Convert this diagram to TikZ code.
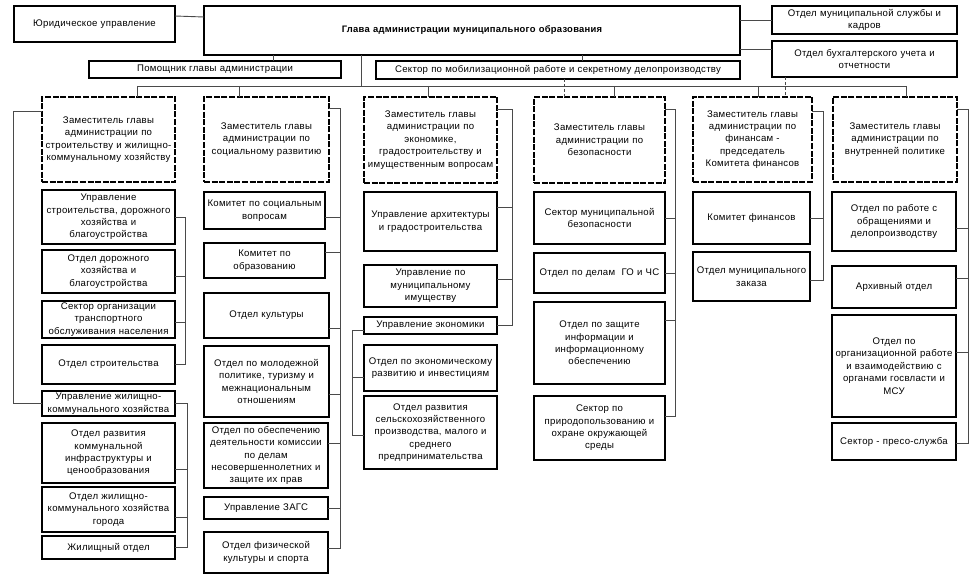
\documentclass[tikz,border=0pt]{standalone}
\usepackage{fontspec}
\setmainfont[LetterSpace=3]{Liberation Sans}
\definecolor{lnc}{HTML}{4A4A4A}
\tikzset{
  x=1pt,y=-1pt,
  box/.style={draw=black, line width=1.5pt, fill=white, align=center, inner xsep=2pt, inner ysep=1pt, outer sep=0pt,
    font=\fontsize{9.6}{12.4}\selectfont},
  topbox/.style={box, line width=1.3pt},
  depbox/.style={box, line width=2pt, dash pattern=on 6pt off 1.6pt},
  conn/.style={draw=lnc, line width=0.9pt},
  dconn/.style={draw=lnc, line width=0.9pt, dash pattern=on 3pt off 2pt},
}
\newcommand\obox[7]{%
  \pgfmathsetmacro\bxw{#5-#3}\pgfmathsetmacro\bxh{#6-#4}\pgfmathsetmacro\bxt{#5-#3-4}%
  \node[#2, anchor=north west, minimum width=\bxw pt, minimum height=\bxh pt, text width=\bxt pt] (#1) at (#3,#4) {#7};}
\begin{document}
\begin{tikzpicture}
\useasboundingbox[fill=white] (0,0) rectangle (972,575);
% top row
\obox{yur}{topbox}{14}{6}{175}{42}{Юридическое управление}
\obox{glava}{topbox}{204}{6}{740}{55}{\fontsize{9.4}{12}\selectfont\bfseries Глава администрации муниципального образования}
\obox{kadry}{topbox}{772}{6}{957}{34}{Отдел муниципальной службы и\\кадров}
\obox{buh}{topbox}{772}{41}{957}{77}{Отдел бухгалтерского учета и\\отчетности}
\obox{pom}{topbox}{89}{61}{341}{78}{Помощник главы администрации}
\obox{mob}{topbox}{376}{61}{740}{79}{Сектор по мобилизационной работе и секретному делопроизводству}
% deputies
\obox{d1}{depbox}{42}{97}{175}{182}{Заместитель главы\\администрации по\\строительству и жилищно-\\коммунальному хозяйству}
\obox{d2}{depbox}{204}{97}{329}{182}{Заместитель главы\\администрации по\\социальному развитию}
\obox{d3}{depbox}{364}{97}{497}{183}{Заместитель главы\\администрации по\\экономике,\\градостроительству и\\имущественным вопросам}
\obox{d4}{depbox}{534}{97}{665}{183}{Заместитель главы\\администрации по\\безопасности}
\obox{d5}{depbox}{693}{97}{812}{182}{Заместитель главы\\администрации по\\финансам -\\председатель\\Комитета финансов}
\obox{d6}{depbox}{833}{97}{957}{182}{Заместитель главы\\администрации по\\внутренней политике}
% column 1
\obox{a1}{box}{42}{190}{175}{244}{Управление\\строительства, дорожного\\хозяйства и\\благоустройства}
\obox{a2}{box}{42}{250}{175}{293}{Отдел дорожного\\хозяйства и\\благоустройства}
\obox{a3}{box}{42}{301}{175}{338}{Сектор организации\\транспортного\\обслуживания населения}
\obox{a4}{box}{42}{345}{175}{384}{Отдел строительства}
\obox{a5}{box}{42}{391}{175}{416}{Управление жилищно-\\коммунального хозяйства}
\obox{a6}{box}{42}{423}{175}{483}{Отдел развития\\коммунальной\\инфраструктуры и\\ценообразования}
\obox{a7}{box}{42}{487}{175}{532}{Отдел жилищно-\\коммунального хозяйства\\города}
\obox{a8}{box}{42}{536}{175}{559}{Жилищный отдел}
% column 2
\obox{b1}{box}{204}{192}{325}{229}{Комитет по социальным\\вопросам}
\obox{b2}{box}{204}{243}{325}{278}{Комитет по\\образованию}
\obox{b3}{box}{204}{293}{329}{338}{Отдел культуры}
\obox{b4}{box}{204}{346}{329}{417}{Отдел по молодежной\\политике, туризму и\\межнациональным\\отношениям}
\obox{b5}{box}{204}{423}{328}{488}{Отдел по обеспечению\\деятельности комиссии\\по делам\\несовершеннолетних и\\защите их прав}
\obox{b6}{box}{204}{497}{328}{519}{Управление ЗАГС}
\obox{b7}{box}{204}{532}{328}{573}{Отдел физической\\культуры и спорта}
% column 3
\obox{c1}{box}{364}{192}{497}{251}{Управление архитектуры\\и градостроительства}
\obox{c2}{box}{364}{265}{497}{307}{Управление по\\муниципальному\\имуществу}
\obox{c3}{box}{364}{317}{497}{334}{Управление экономики}
\obox{c4}{box}{364}{345}{497}{391}{Отдел по экономическому\\развитию и инвестициям}
\obox{c5}{box}{364}{396}{497}{469}{Отдел развития\\сельскохозяйственного\\производства, малого и\\среднего\\предпринимательства}
% column 4
\obox{e1}{box}{534}{192}{665}{244}{Сектор муниципальной\\безопасности}
\obox{e2}{box}{534}{253}{665}{293}{Отдел по делам~~ГО и ЧС}
\obox{e3}{box}{534}{302}{665}{384}{Отдел по защите\\информации и\\информационному\\обеспечению}
\obox{e4}{box}{534}{396}{665}{460}{Сектор по\\природопользованию и\\охране окружающей\\среды}
% column 5
\obox{f1}{box}{693}{192}{810}{244}{Комитет финансов}
\obox{f2}{box}{693}{252}{810}{301}{Отдел муниципального\\заказа}
% column 6
\obox{g1}{box}{832}{192}{956}{251}{Отдел по работе с\\обращениями и\\делопроизводству}
\obox{g2}{box}{832}{266}{956}{308}{Архивный отдел}
\obox{g3}{box}{832}{315}{956}{417}{Отдел по\\организационной работе\\и взаимодействию с\\органами госвласти и\\МСУ}
\obox{g4}{box}{832}{423}{956}{460}{Сектор - пресо-служба}

% ---- connectors: top
\path ([yshift=-10pt]yur.north east) coordinate (ys) ([yshift=-11pt]glava.north west) coordinate (gs);
\draw[conn] (ys) -- (gs);
\draw[conn] (kadry.west) -- (kadry.west -| glava.east);
\path ([yshift=-8pt]buh.north west) coordinate (bh1);
\draw[conn] (bh1) -- (bh1 -| glava.east);
\path ([xshift=58pt]pom.north) coordinate (pt);
\draw[conn] (pt) -- (pt |- glava.south);
\path ([xshift=24pt]mob.north) coordinate (mt);
\draw[conn] (mt) -- (mt |- glava.south);
\coordinate (bus) at (361,86);
\draw[conn] (glava.south -| bus) -- (bus);
\path ([xshift=28.5pt]d1.north) coordinate (t1)
      ([xshift=-27.5pt]d2.north) coordinate (t2)
      ([xshift=-2.5pt]d3.north) coordinate (t3)
      ([xshift=14.5pt]d4.north) coordinate (t4)
      ([xshift=5.5pt]d5.north) coordinate (t5)
      ([xshift=11pt]d6.north) coordinate (t6);
\draw[conn] (t1 |- bus) -- (t6 |- bus);
\foreach \t in {t1,t2,t3,t4,t5,t6} \draw[conn] (\t |- bus) -- (\t);
\path ([xshift=6pt]mob.south) coordinate (ms) ([xshift=-79.5pt]buh.south) coordinate (bs);
\draw[dconn] (ms) -- (ms |- d4.north);
\draw[dconn] (bs) -- (bs |- d5.north);

% ---- column 1
\coordinate (L1) at (13,0);
\path ([yshift=-14pt]d1.north west) coordinate (d1s);
\draw[conn] (d1s) -- (d1s -| L1) -- (a5.west -| L1) -- (a5.west);
\coordinate (R1) at (185,0);
\path ([yshift=-4.5pt]a2.east) coordinate (a2s) ([yshift=-2.5pt]a3.east) coordinate (a3s);
\draw[conn] (a1.east) -- (a1.east -| R1) -- (a4.east -| R1) -- (a4.east);
\draw[conn] (a2s) -- (a2s -| R1);
\draw[conn] (a3s) -- (a3s -| R1);
\coordinate (R1b) at (187,0);
\path ([yshift=-16pt]a6.east) coordinate (a6s) ([yshift=-7.5pt]a7.east) coordinate (a7s);
\draw[conn] (a5.east) -- (a5.east -| R1b) -- (a8.east -| R1b) -- (a8.east);
\draw[conn] (a6s) -- (a6s -| R1b);
\draw[conn] (a7s) -- (a7s -| R1b);

% ---- column 2
\coordinate (R2) at (340,0);
\path ([yshift=-11pt]d2.north east) coordinate (d2s)
      ([yshift=-6.5pt]b1.east) coordinate (b1s)
      ([yshift=8.5pt]b2.east) coordinate (b2s)
      ([yshift=-12.5pt]b3.east) coordinate (b3s)
      ([yshift=-12.5pt]b4.east) coordinate (b4s)
      ([yshift=12.5pt]b5.east) coordinate (b5s)
      ([yshift=4.5pt]b7.east) coordinate (b7s);
\draw[conn] (d2s) -- (d2s -| R2) -- (b7s -| R2) -- (b7s);
\foreach \s in {b1s,b2s,b3s,b4s,b5s} \draw[conn] (\s) -- (\s -| R2);
\draw[conn] (b6.east) -- (b6.east -| R2);

% ---- column 3
\coordinate (R3) at (512,0);
\path ([yshift=-12pt]d3.north east) coordinate (d3s)
      ([yshift=14.5pt]c1.east) coordinate (c1s)
      ([yshift=7pt]c2.east) coordinate (c2s);
\draw[conn] (d3s) -- (d3s -| R3) -- (c3.east -| R3) -- (c3.east);
\draw[conn] (c1s) -- (c1s -| R3);
\draw[conn] (c2s) -- (c2s -| R3);
\coordinate (L3) at (352,0);
\path ([yshift=-4.5pt]c3.west) coordinate (c3w) ([yshift=-9pt]c4.west) coordinate (c4w) ([yshift=-2.5pt]c5.west) coordinate (c5w);
\draw[conn] (c3w) -- (c3w -| L3) -- (c5w -| L3) -- (c5w);
\draw[conn] (c4w) -- (c4w -| L3);

% ---- column 4
\coordinate (R4) at (675,0);
\path ([yshift=-12pt]d4.north east) coordinate (d4s)
      ([yshift=23pt]e3.east) coordinate (e3s)
      ([yshift=12pt]e4.east) coordinate (e4s);
\draw[conn] (d4s) -- (d4s -| R4) -- (e4s -| R4) -- (e4s);
\draw[conn] (e1.east) -- (e1.east -| R4);
\draw[conn] (e2.east) -- (e2.east -| R4);
\draw[conn] (e3s) -- (e3s -| R4);

% ---- column 5
\coordinate (R5) at (823,0);
\path ([yshift=-14pt]d5.north east) coordinate (d5s) ([yshift=-3.5pt]f2.east) coordinate (f2s);
\draw[conn] (d5s) -- (d5s -| R5) -- (f2s -| R5) -- (f2s);
\draw[conn] (f1.east) -- (f1.east -| R5);

% ---- column 6
\coordinate (R6) at (968,0);
\path ([yshift=-12pt]d6.north east) coordinate (d6s)
      ([yshift=-6.5pt]g1.east) coordinate (g1s)
      ([yshift=9pt]g2.east) coordinate (g2s)
      ([yshift=14pt]g3.east) coordinate (g3s)
      ([yshift=-1.5pt]g4.east) coordinate (g4s);
\draw[conn] (d6s) -- (d6s -| R6) -- (g4s -| R6) -- (g4s);
\foreach \s in {g1s,g2s,g3s} \draw[conn] (\s) -- (\s -| R6);
\end{tikzpicture}
\end{document}
